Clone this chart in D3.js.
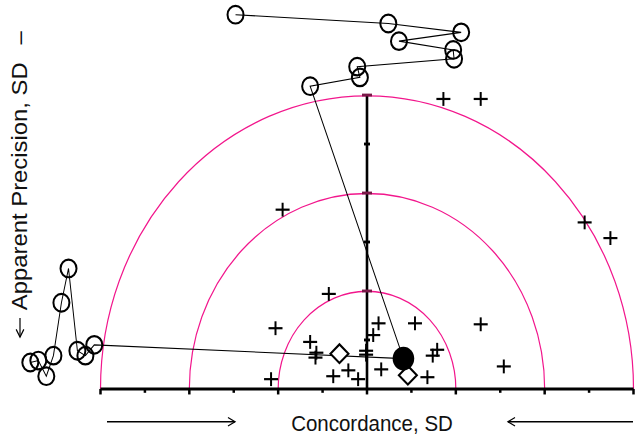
<!DOCTYPE html>
<html>
<head>
<meta charset="utf-8">
<script src="https://cdn.jsdelivr.net/npm/d3@7"></script>
<style>
  body { margin: 0; background: #fff; }
  text { font-family: "Liberation Sans", Arial, sans-serif; fill: #111; }
</style>
</head>
<body>
<svg width="637" height="437"></svg>
<script>
// values in SD units: x = concordance, y = apparent precision
var rings = [1, 2, 3];
var baseTicks = [-3, -2.5, -2, -1.5, -1, -0.5, 0, 0.5, 1, 1.5, 2, 2.5, 3];
var vertTicks = [0.5, 1, 1.5, 2, 2.5, 3];

var plusX = [0.86, 1.28, -0.95, -0.43, 2.45, 2.74, -1.03, 0.13, 0.54, 1.28, 0.07, -0.64, -0.57, -0.58,
             -0.01, -0.01, -1.08, -0.38, -0.21, -0.10, 0.16, 0.68, 0.74, 0.79, 1.54];
var plusY = [2.96, 2.96, 1.83, 0.97, 1.70, 1.54, 0.62, 0.67, 0.67, 0.66, 0.55, 0.48, 0.37, 0.32,
             0.39, 0.35, 0.10, 0.13, 0.19, 0.10, 0.20, 0.12, 0.34, 0.40, 0.23];

var topTrailX = [-1.48, 0.24, 1.06, 0.36, 0.97, 0.98, -0.11, -0.08, -0.64];
var topTrailY = [3.82, 3.73, 3.64, 3.55, 3.46, 3.37, 3.29, 3.18, 3.09];

var leftTrailX = [-3.79, -3.70, -3.61, -3.53, -3.44, -3.36, -3.26, -3.17, -3.07];
var leftTrailY = [0.27, 0.29, 0.13, 0.34, 0.88, 1.23, 0.39, 0.34, 0.45];

var diamondX = [-0.31, 0.46];
var diamondY = [0.36, 0.14];

var currentX = 0.41;
var currentY = 0.31;

var svg = d3.select("svg");
// the whole figure is stretched vertically
var g = svg.append("g").attr("transform", "scale(1,1.1)");

var x = d3.scaleLinear().domain([-3, 3]).range([100.5, 633.5]);
var y = d3.scaleLinear().domain([0, 3]).range([353.6, 86.4]);
var r = x(1) - x(0);

// rings
rings.forEach(function (k) {
    var p = d3.path();
    p.arc(x(0), y(0), k * r, Math.PI, 2 * Math.PI);
    g.append("path").attr("d", p.toString())
        .attr("fill", "none").attr("stroke", "#f2168c").attr("stroke-width", 1.2);
});

// horizontal axis
g.append("line")
    .attr("x1", x(-3)).attr("x2", x(3))
    .attr("y1", y(0)).attr("y2", y(0))
    .attr("stroke", "#000").attr("stroke-width", 2.6);
g.selectAll(".bt").data(baseTicks).enter().append("line")
    .attr("x1", function (d) { return x(d); })
    .attr("x2", function (d) { return x(d); })
    .attr("y1", y(0))
    .attr("y2", function (d) { return y(0) + (d % 1 === 0 ? 5 : 3.5); })
    .attr("stroke", "#000").attr("stroke-width", 2.5);

// vertical axis
g.append("line")
    .attr("x1", x(0)).attr("x2", x(0))
    .attr("y1", y(0)).attr("y2", y(3))
    .attr("stroke", "#000").attr("stroke-width", 2.6);
g.selectAll(".vt").data(vertTicks).enter().append("line")
    .attr("x1", function (d) { return x(0) - (d % 1 === 0 ? 5 : 3); })
    .attr("x2", function (d) { return x(0) + (d % 1 === 0 ? 5 : 3); })
    .attr("y1", function (d) { return y(d); })
    .attr("y2", function (d) { return y(d); })
    .attr("stroke", function (d) { return d % 1 === 0 ? "#7a1848" : "#000"; })
    .attr("stroke-width", 2.6);

// trails
var line = d3.line();
function trail(xs, ys) {
    var pts = xs.map(function (v, i) { return [x(v), y(ys[i])]; });
    pts.push([x(currentX), y(currentY)]);
    g.append("path").attr("d", line(pts))
        .attr("fill", "none").attr("stroke", "#000").attr("stroke-width", 1);
    g.selectAll(null).data(pts.slice(0, -1)).enter().append("circle")
        .attr("cx", function (d) { return d[0]; })
        .attr("cy", function (d) { return d[1]; })
        .attr("r", 8)
        .attr("fill", "none").attr("stroke", "#000").attr("stroke-width", 2);
}
trail(topTrailX, topTrailY);
trail(leftTrailX, leftTrailY);

// plus markers
var plus = g.selectAll(".plus").data(plusX).enter().append("g")
    .attr("transform", function (d, i) { return "translate(" + x(d) + "," + y(plusY[i]) + ")"; });
plus.append("line").attr("x1", -7).attr("x2", 7).attr("y1", 0).attr("y2", 0)
    .attr("stroke", "#000").attr("stroke-width", 2);
plus.append("line").attr("x1", 0).attr("x2", 0).attr("y1", -6.3).attr("y2", 6.3)
    .attr("stroke", "#000").attr("stroke-width", 2);

// diamonds
g.selectAll(".dia").data(diamondX).enter().append("path")
    .attr("d", "M0,-8.5L9,0L0,8.5L-9,0Z")
    .attr("transform", function (d, i) { return "translate(" + x(d) + "," + y(diamondY[i]) + ")"; })
    .attr("fill", "#fff").attr("stroke", "#000").attr("stroke-width", 2);

// current position
g.append("circle")
    .attr("cx", x(currentX)).attr("cy", y(currentY)).attr("r", 10.8)
    .attr("fill", "#000");

// x label and arrows
g.append("text").attr("x", 372).attr("y", 391.8)
    .attr("text-anchor", "middle").attr("font-size", 20.5)
    .text("Concordance, SD");

function arrow(x1, y1, x2, y2) {
    var a = Math.atan2(y2 - y1, x2 - x1), h = 8, w = 0.5;
    g.append("line").attr("x1", x1).attr("x2", x2).attr("y1", y1).attr("y2", y2)
        .attr("stroke", "#000").attr("stroke-width", 1.2);
    g.append("path")
        .attr("d", "M" + (x2 - h * Math.cos(a - w)) + "," + (y2 - h * Math.sin(a - w)) +
            "L" + x2 + "," + y2 +
            "L" + (x2 - h * Math.cos(a + w)) + "," + (y2 - h * Math.sin(a + w)))
        .attr("fill", "none").attr("stroke", "#000").attr("stroke-width", 1.2);
}
arrow(107, 383.4, 235, 383.4);
arrow(633, 383.4, 508, 383.4);

// y label
arrow(20, 289, 20, 306.4);
g.append("text")
    .attr("transform", "translate(27,282) rotate(-90)")
    .attr("font-size", 21.7)
    .text("Apparent Precision, SD");
g.append("text")
    .attr("transform", "translate(27,34.5) rotate(-90)")
    .attr("text-anchor", "middle")
    .attr("font-size", 21.7)
    .text("\u2013");
</script>
</body>
</html>
